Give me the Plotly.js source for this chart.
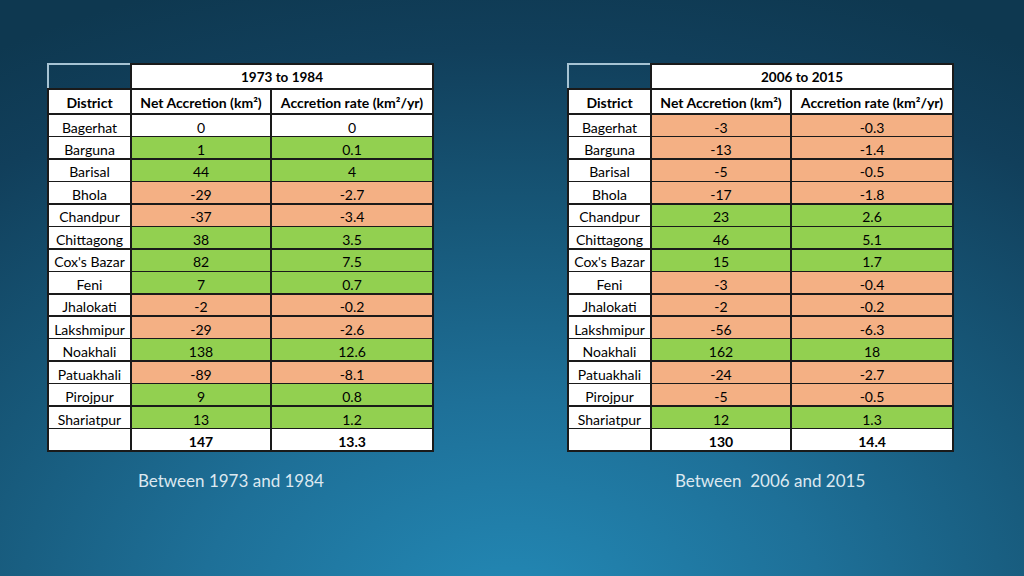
<!DOCTYPE html>
<html>
<head>
<meta charset="utf-8">
<script src="https://cdn.plot.ly/plotly-3.0.1.min.js"></script>
<style>
  html, body { margin:0; padding:0; width:1024px; height:576px; overflow:hidden; }
  body { background: radial-gradient(ellipse 95% 115% at 50% 106%, #2389b6 0%, #1e7098 32%, #175879 58%, #113f5b 85%, #0e3850 100%); }
  #chart { width:1024px; height:576px; }
</style>
</head>
<body>
<div id="chart"></div>
<script>
// ---- data ----
const districts = ['Bagerhat','Barguna','Barisal','Bhola','Chandpur','Chittagong',"Cox's Bazar",'Feni','Jhalokati','Lakshmipur','Noakhali','Patuakhali','Pirojpur','Shariatpur'];
const net7384  = [0, 1, 44, -29, -37, 38, 82, 7, -2, -29, 138, -89, 9, 13];
const rate7384 = [0, 0.1, 4, -2.7, -3.4, 3.5, 7.5, 0.7, -0.2, -2.6, 12.6, -8.1, 0.8, 1.2];
const net0615  = [-3, -13, -5, -17, 23, 46, 15, -3, -2, -56, 162, -24, -5, 12];
const rate0615 = [-0.3, -1.4, -0.5, -1.8, 2.6, 5.1, 1.7, -0.4, -0.2, -6.3, 18, -2.7, -0.5, 1.3];
const total7384 = [147, 13.3];
const total0615 = [130, 14.4];
const periods = ['1973 to 1984', '2006 to 2015'];
const captions = ['Between 1973 and 1984', 'Between  2006 and 2015'];
const colHeaders = ['District', 'Net Accretion (km²)', 'Accretion rate (km²/yr)'];

// ---- style ----
const GREEN = '#92d050', SALMON = '#f4b084', WHITE = '#ffffff';
const W = 1024, H = 576;
const FONT = 'Lato, "Open Sans", sans-serif';
const LINE = {color: '#1a1a1a', width: 1.5};

function colorFor(v){ return v > 0 ? GREEN : (v < 0 ? SALMON : WHITE); }
function nb(s){ return s.replace(/ /g, '\u00a0'); }

function buildTable(x0, x1, net, rate, total, period){
  const n = districts.length + 1;
  const rowColors = net.map(colorFor).concat([WHITE]);
  const distColors = districts.map(() => WHITE).concat([WHITE]);
  const weights = Array.from({length: n}, (_, i) => i === n - 1 ? 'bold' : 'normal');
  const xd = [x0 / W, x1 / W];
  const colW = [83, 140, 162];
  const split = x0 + colW[0];
  const corner = {
    type: 'table',
    domain: {x: [x0 / W, split / W], y: [0.6, 1 - 64 / H]},
    header: {
      values: [''],
      height: 25,
      fill: {color: 'rgba(0,0,0,0)'},
      line: {color: '#a6c3d3', width: 2}
    },
    cells: {values: [[]], height: 0}
  };
  const top = {
    type: 'table',
    domain: {x: [split / W, x1 / W], y: [0.6, 1 - 64 / H]},
    header: {
      values: [nb(period)],
      height: 25,
      align: 'center',
      fill: {color: WHITE},
      line: LINE,
      font: {family: FONT, size: 13.5, color: '#000', weight: 'bold'}
    },
    cells: {values: [[]], height: 0}
  };
  const main = {
    type: 'table',
    domain: {x: xd, y: [0.0, 1 - 89 / H]},
    columnwidth: colW,
    header: {
      values: colHeaders.map(nb),
      height: 25,
      align: 'center',
      fill: {color: WHITE},
      line: LINE,
      font: {family: FONT, size: 14, color: '#000', weight: 'bold'}
    },
    cells: {
      values: [
        districts.map(nb).concat(['']),
        net.map(String).concat([String(total[0])]),
        rate.map(String).concat([String(total[1])])
      ],
      height: 22.47,
      align: 'center',
      fill: {color: [distColors, rowColors, rowColors]},
      line: LINE,
      font: {family: FONT, size: 14, color: '#000', weight: [weights, weights, weights]}
    }
  };
  return [corner, top, main];
}

const data = [].concat(
  buildTable(48, 433, net7384, rate7384, total7384, periods[0]),
  buildTable(568, 953, net0615, rate0615, total0615, periods[1])
);

const layout = {
  width: W, height: H,
  margin: {l: 0, r: 0, t: 0, b: 0},
  paper_bgcolor: 'rgba(0,0,0,0)',
  plot_bgcolor: 'rgba(0,0,0,0)',
  showlegend: false,
  annotations: [
    {text: captions[0], x: 231 / W, y: 1 - 480 / H, xref: 'paper', yref: 'paper', showarrow: false,
     xanchor: 'center', yanchor: 'middle',
     font: {family: FONT, size: 17, color: '#dce8f0'}},
    {text: nb(captions[1]), x: 770 / W, y: 1 - 480 / H, xref: 'paper', yref: 'paper', showarrow: false,
     xanchor: 'center', yanchor: 'middle',
     font: {family: FONT, size: 17, color: '#dce8f0'}}
  ]
};

Plotly.newPlot('chart', data, layout, {displayModeBar: false, staticPlot: true});
</script>
</body>
</html>
